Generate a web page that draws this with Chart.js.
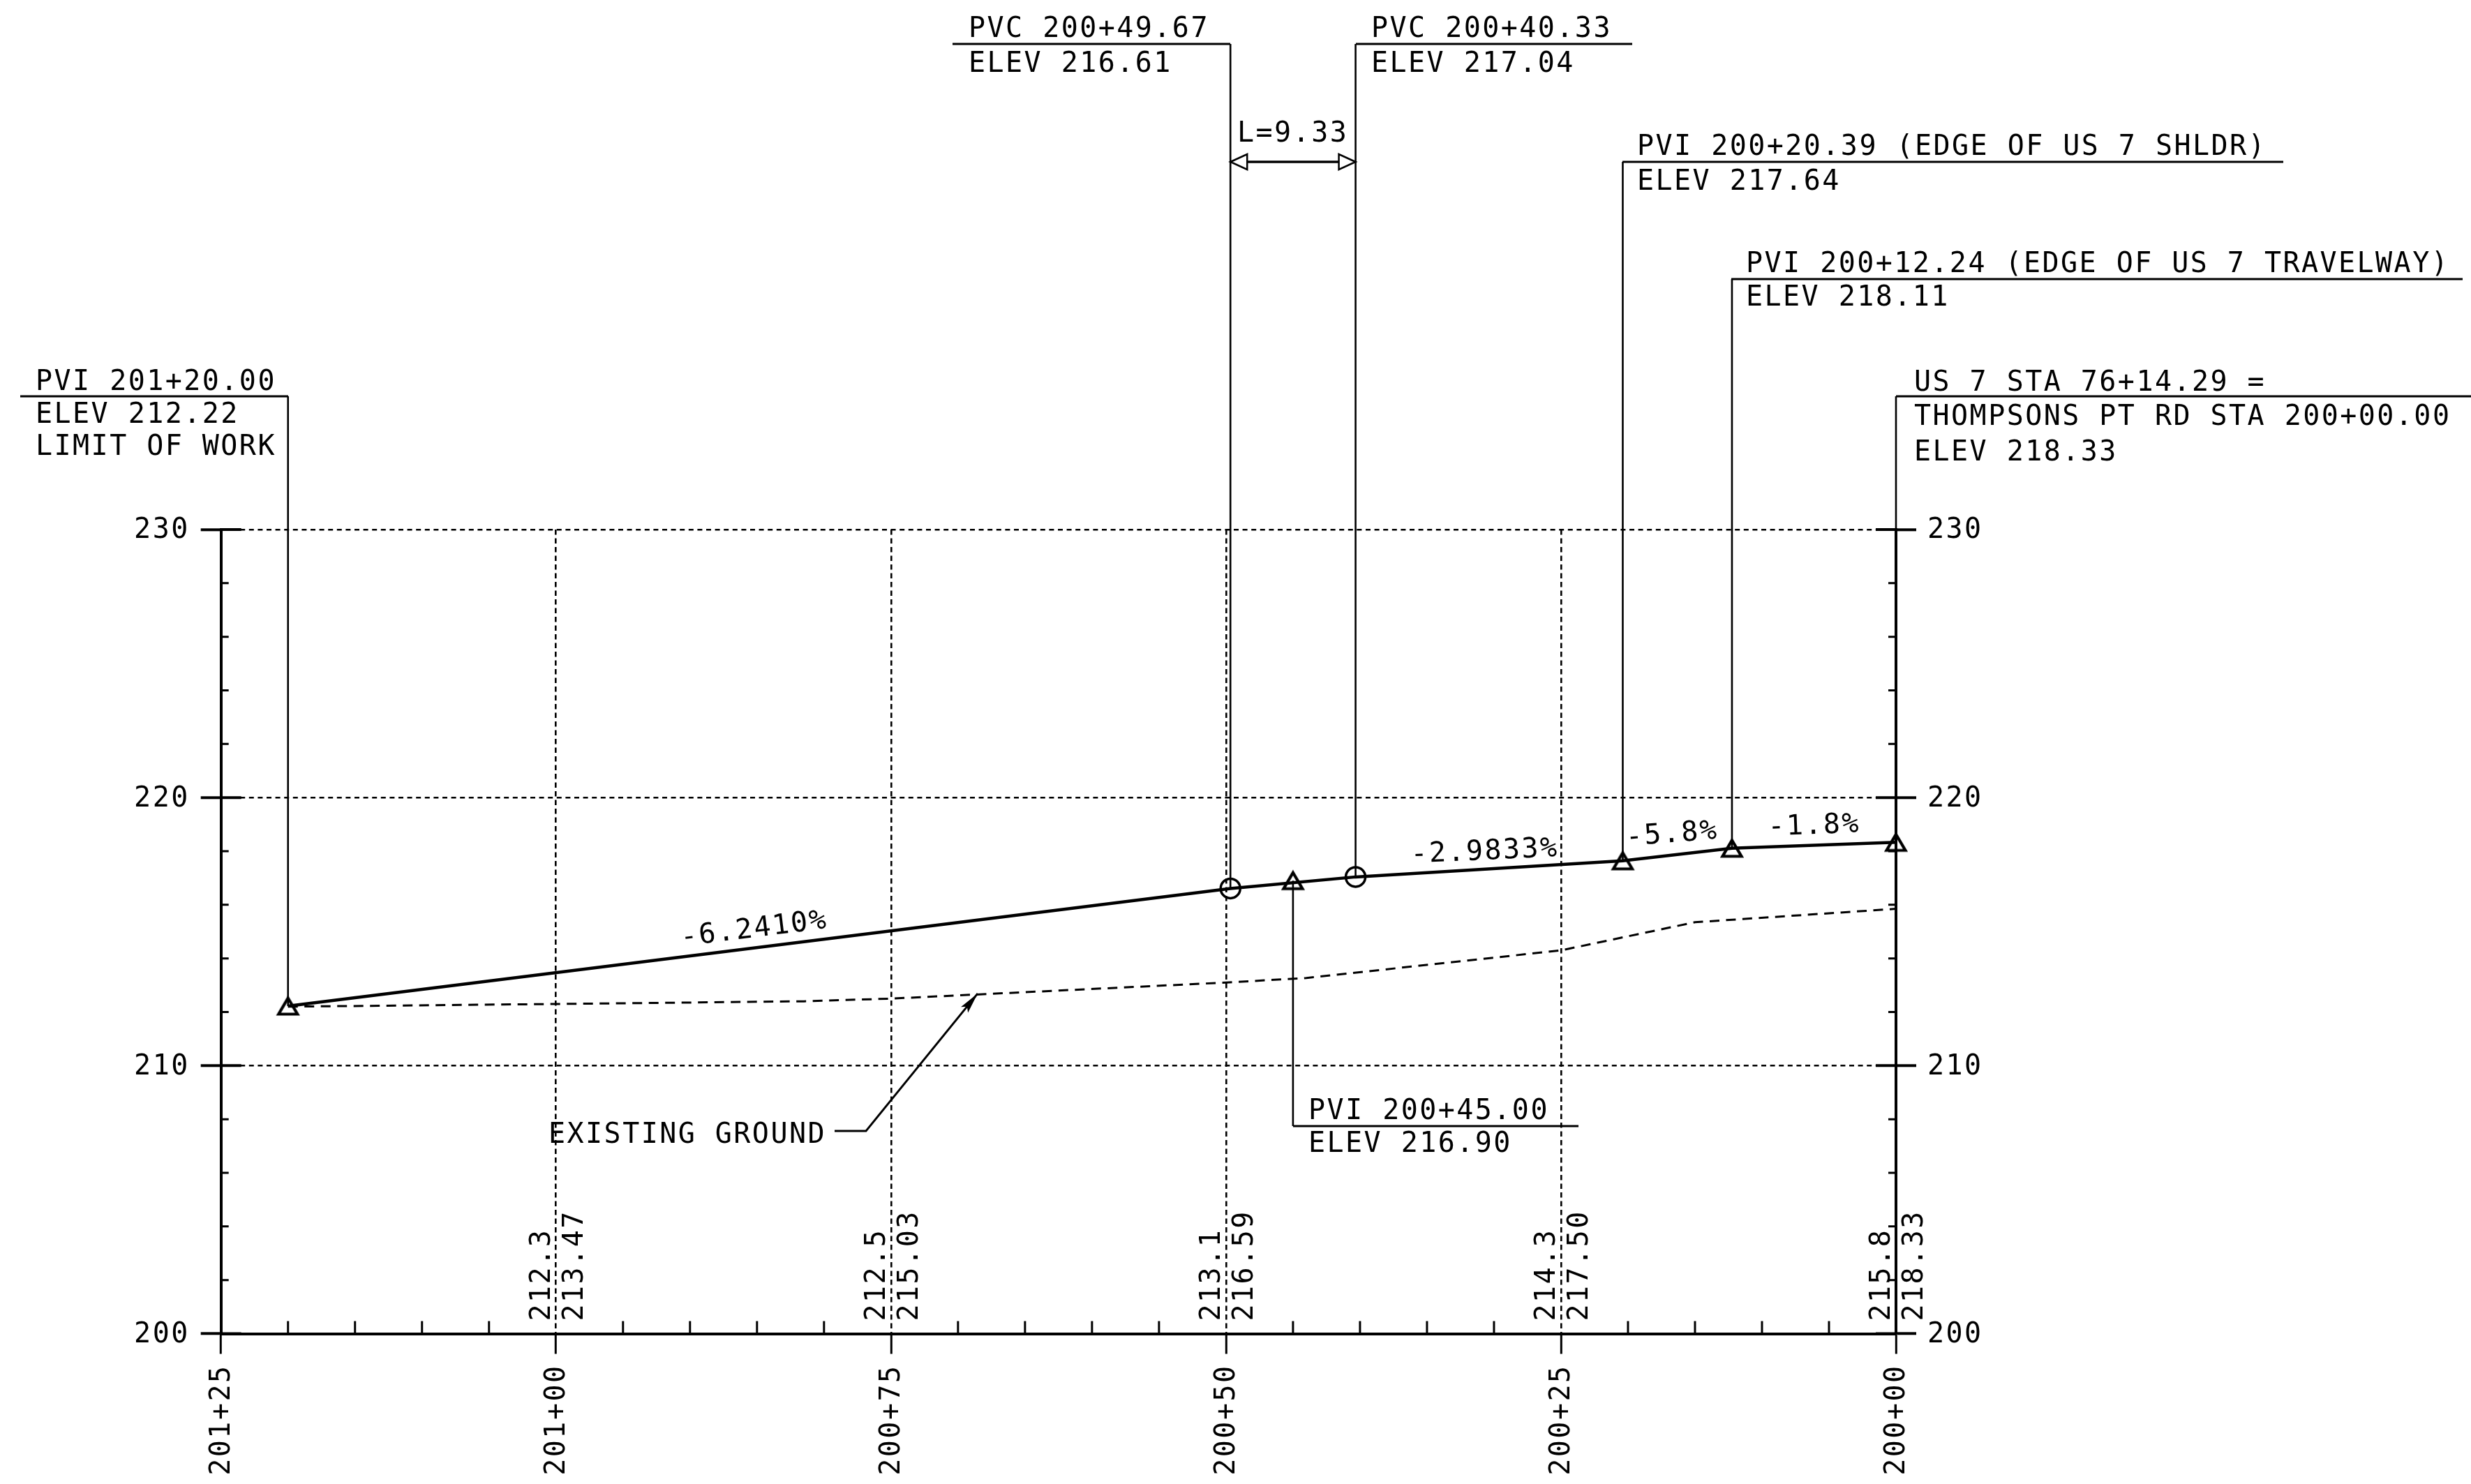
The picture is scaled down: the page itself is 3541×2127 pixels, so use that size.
<!DOCTYPE html>
<html><head><meta charset="utf-8">
<style>html,body{margin:0;padding:0;background:#fff}canvas{display:block}</style>
<script src="https://cdn.jsdelivr.net/npm/chart.js@4/dist/chart.umd.js"></script>
</head><body><canvas id="c" width="3541" height="2127"></canvas>
<script>
// ---- data ----
const profileStations = [120, 49.67, 40.33, 20.39, 12.24, 0];
const profileElevs    = [212.22, 216.61, 217.04, 217.64, 218.11, 218.33];
const groundStations  = [120, 100, 81.5, 75, 50, 44, 25, 15, 0];
const groundElevs     = [212.2, 212.3, 212.4, 212.5, 213.1, 213.27, 214.3, 215.35, 215.85];
const pviStations     = [120, 45, 20.39, 12.24, 0];
const pviElevs        = [212.22, 216.9, 217.64, 218.11, 218.33];
const pvcStations     = [49.67, 40.33];
const pvcElevs        = [216.61, 217.04];
const tableStations   = [100, 75, 50, 25, 0];
const tableGround     = ['212.3', '212.5', '213.1', '214.3', '215.8'];
const tableDesign     = ['213.47', '215.03', '216.59', '217.50', '218.33'];
const stationLabels   = {125:'201+25', 100:'201+00', 75:'200+75', 50:'200+50', 25:'200+25', 0:'200+00'};
const pair = (xs, ys) => xs.map((x, i) => ({x, y: ys[i]}));

// ---- callout text and layout (page pixels for the notes outside the plot) ----
const callouts = [
  {st:120,   el:212.22, lineY:568, from:29,   to:413,  tx:51,   lines:[['PVI 201+20.00',559],['ELEV 212.22',606],['LIMIT OF WORK',652]]},
  {st:49.67, el:216.61, lineY:63,  from:1365, to:1763, tx:1388, lines:[['PVC 200+49.67',53],['ELEV 216.61',103]]},
  {st:40.33, el:217.04, lineY:63,  from:1943, to:2339, tx:1965, lines:[['PVC 200+40.33',53],['ELEV 217.04',103]]},
  {st:20.39, el:217.64, lineY:232, from:2325, to:3272, tx:2346, lines:[['PVI 200+20.39 (EDGE OF US 7 SHLDR)',222],['ELEV 217.64',272]]},
  {st:12.24, el:218.11, lineY:400, from:2481, to:3529, tx:2502, lines:[['PVI 200+12.24 (EDGE OF US 7 TRAVELWAY)',390],['ELEV 218.11',438]]},
  {st:0,     el:218.33, lineY:568, from:2717, to:3541, tx:2743, lines:[['US 7 STA 76+14.29 =',560],['THOMPSONS PT RD STA 200+00.00',609],['ELEV 218.33',660]]},
  {st:45,    el:216.9,  lineY:1614,from:1853, to:2262, tx:1875, lines:[['PVI 200+45.00',1604],['ELEV 216.90',1651]]}
];
const gradeLabels = [
  {t:'-6.2410%', x:1082, y:1343, a:-7},
  {t:'-2.9833%', x:2128, y:1232, a:-2.6},
  {t:'-5.8%',    x:2397, y:1207, a:-4.5},
  {t:'-1.8%',    x:2600, y:1195, a:-2}
];
const FAMILY = 'DejaVu Sans Mono', SIZE = 40;
const FONT = SIZE + 'px "' + FAMILY + '"';

// open triangle marker centred on its point
function triangleMarker(){
  const c = document.createElement('canvas'); c.width = 44; c.height = 44;
  const g = c.getContext('2d');
  g.lineWidth = 4.2; g.strokeStyle = '#000'; g.lineJoin = 'miter';
  g.beginPath(); g.moveTo(22, 10.5); g.lineTo(35.5, 33.5); g.lineTo(8.5, 33.5); g.closePath(); g.stroke();
  return c;
}

const overlay = {
  id:'overlay',
  beforeDraw(chart){ chart.ctx.letterSpacing = '2.45px'; },
  beforeDatasetsDraw(chart){
    const {ctx, scales:{x, y}, chartArea:a} = chart;
    ctx.save(); ctx.strokeStyle = '#000'; ctx.lineCap = 'butt';
    // minor ticks and inner half of the major ticks
    ctx.lineWidth = 3;
    for (let v = 0; v <= 125; v += 5) {
      if (v % 25 === 0 || v === 0) continue;
      const px = x.getPixelForValue(v);
      ctx.beginPath(); ctx.moveTo(px, a.bottom); ctx.lineTo(px, a.bottom - 18); ctx.stroke();
    }
    for (let v = 202; v < 230; v += 2) {
      if (v % 10 === 0) continue;
      const py = y.getPixelForValue(v);
      ctx.beginPath(); ctx.moveTo(a.left, py); ctx.lineTo(a.left + 11, py);
      ctx.moveTo(a.right, py); ctx.lineTo(a.right - 11, py); ctx.stroke();
    }
    ctx.lineWidth = 4;
    for (let v = 200; v <= 230; v += 10) {
      const py = y.getPixelForValue(v);
      ctx.beginPath(); ctx.moveTo(a.left, py); ctx.lineTo(a.left + 29, py);
      ctx.moveTo(a.right, py); ctx.lineTo(a.right - 29, py); ctx.stroke();
    }
    // callout leaders
    ctx.lineWidth = 2.6;
    callouts.forEach(c => {
      const px = x.getPixelForValue(c.st), py = y.getPixelForValue(c.el);
      ctx.beginPath(); ctx.moveTo(px, py); ctx.lineTo(px, c.lineY); ctx.stroke();
      ctx.lineWidth = 3;
      ctx.beginPath(); ctx.moveTo(c.from, c.lineY); ctx.lineTo(c.to, c.lineY); ctx.stroke();
      ctx.lineWidth = 2.6;
    });
    ctx.restore();
  },
  afterDatasetsDraw(chart){
    const {ctx, scales:{x}, chartArea:a} = chart;
    ctx.save(); ctx.fillStyle = '#000'; ctx.strokeStyle = '#000'; ctx.font = FONT;
    ctx.textAlign = 'left'; ctx.textBaseline = 'alphabetic';
    callouts.forEach(c => c.lines.forEach(([t, b]) => ctx.fillText(t, c.tx, b)));
    ctx.fillText('L=9.33', 1773, 203);
    ctx.fillText('EXISTING GROUND', 786, 1638);
    // L dimension arrow between the two PVC stations
    const xa = x.getPixelForValue(pvcStations[0]), xb = x.getPixelForValue(pvcStations[1]), ya = 232;
    ctx.lineWidth = 3.5;
    ctx.beginPath(); ctx.moveTo(xa + 24, ya); ctx.lineTo(xb - 24, ya); ctx.stroke();
    ctx.lineWidth = 2.5;
    ctx.beginPath(); ctx.moveTo(xa, ya); ctx.lineTo(xa + 24, ya - 11); ctx.lineTo(xa + 24, ya + 11); ctx.closePath();
    ctx.moveTo(xb, ya); ctx.lineTo(xb - 24, ya - 11); ctx.lineTo(xb - 24, ya + 11); ctx.closePath(); ctx.stroke();
    // existing ground leader
    ctx.lineWidth = 2.8;
    const tip = [1401, 1424], elbow = [1241, 1621];
    ctx.beginPath(); ctx.moveTo(1196, 1621); ctx.lineTo(elbow[0], elbow[1]); ctx.lineTo(tip[0], tip[1]); ctx.stroke();
    const ang = Math.atan2(tip[1] - elbow[1], tip[0] - elbow[0]);
    ctx.save(); ctx.translate(tip[0], tip[1]); ctx.rotate(ang);
    ctx.beginPath(); ctx.moveTo(0, 0); ctx.lineTo(-30, -6.5); ctx.lineTo(-24, 0); ctx.lineTo(-30, 6.5); ctx.closePath(); ctx.fill();
    ctx.restore();
    // grade labels
    ctx.textAlign = 'center';
    gradeLabels.forEach(g => {
      ctx.save(); ctx.translate(g.x, g.y); ctx.rotate(g.a * Math.PI / 180); ctx.fillText(g.t, 0, 0); ctx.restore();
    });
    // elevation table, read upward beside each station line
    ctx.textAlign = 'left';
    tableStations.forEach((s, i) => {
      const px = x.getPixelForValue(s);
      [[tableGround[i], -9], [tableDesign[i], 38]].forEach(([t, off]) => {
        ctx.save(); ctx.translate(px + off, a.bottom - 18); ctx.rotate(-Math.PI / 2); ctx.fillText(t, 0, 0); ctx.restore();
      });
    });
    ctx.restore();
  }
};

const yAxis = (position, width) => ({
  type:'linear', position, min:200, max:230,
  ticks:{stepSize:10, padding:16, labelOffset:2, color:'#000', font:{family:FAMILY, size:SIZE}, callback:v => String(v)},
  grid:{
    drawOnChartArea: position === 'left', drawTicks:true, tickLength:29, lineWidth:2.6, tickWidth:4,
    color:c => c.tick && c.tick.value === 200 ? 'rgba(0,0,0,0)' : '#000', tickColor:'#000', tickBorderDash:[]
  },
  border:{display:true, color:'#000', width:4, dash:[7,5.6]},
  afterFit(s){ s.width = width; }
});

new Chart(document.getElementById('c'), {
  type:'line',
  data:{datasets:[
    {label:'Proposed grade', data:pair(profileStations, profileElevs), borderColor:'#000', borderWidth:4.5, pointRadius:0, tension:0, clip:false},
    {label:'Existing ground', data:pair(groundStations, groundElevs), borderColor:'#000', borderWidth:3, borderDash:[14,9.5], pointRadius:0, tension:0, clip:false},
    {label:'PVI', data:pair(pviStations, pviElevs), showLine:false, pointStyle:triangleMarker(), pointRadius:22, clip:false},
    {label:'PVC', data:pair(pvcStations, pvcElevs), showLine:false, pointStyle:'circle', pointRadius:14, pointBorderWidth:3.5, pointBorderColor:'#000', pointBackgroundColor:'rgba(0,0,0,0)', clip:false}
  ]},
  options:{
    responsive:false, animation:false, devicePixelRatio:1,
    layout:{padding:{top:759, left:0, right:0, bottom:0}},
    plugins:{legend:{display:false}, tooltip:{enabled:false}},
    scales:{
      x:{
        type:'linear', reverse:true, min:0, max:125, position:'bottom',
        ticks:{stepSize:25, autoSkip:false, minRotation:90, maxRotation:90, padding:15, labelOffset:2, color:'#000',
               font:{family:FAMILY, size:SIZE}, callback:v => stationLabels[v]},
        grid:{drawTicks:true, tickLength:29, lineWidth:2.6, tickWidth:3,
              color:c => c.tick && (c.tick.value === 0 || c.tick.value === 125) ? 'rgba(0,0,0,0)' : '#000',
              tickColor:'#000', tickBorderDash:[]},
        border:{display:true, color:'#000', width:4, dash:[7.5,5]},
        afterFit(s){ s.height = 215.5; }
      },
      y:yAxis('left', 316.7),
      y2:yAxis('right', 824)
    }
  },
  plugins:[overlay]
});
</script></body></html>
